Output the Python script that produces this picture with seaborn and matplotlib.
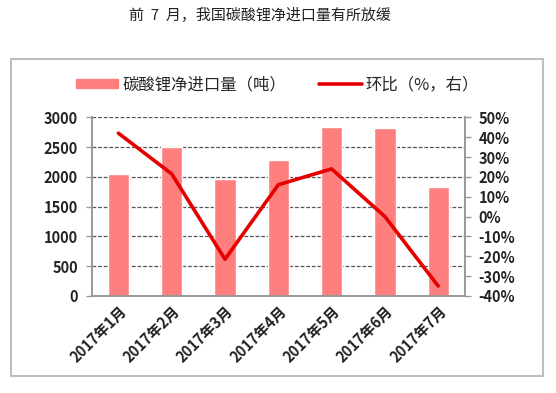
import matplotlib
matplotlib.use("Agg")
import matplotlib.pyplot as plt
import matplotlib.patches as mpatches
import matplotlib.ticker as mticker
from matplotlib.lines import Line2D
import pandas as pd
import seaborn as sns

# data
months = ["2017年1月", "2017年2月", "2017年3月", "2017年4月",
          "2017年5月", "2017年6月", "2017年7月"]
net_imports = [2050, 2500, 1960, 2275, 2835, 2825, 1835]    # 吨
mom_change = [42, 21.5, -21.5, 16, 24, 0, -35]              # %

title = "前  7  月，我国碳酸锂净进口量有所放缓"
bar_label = "碳酸锂净进口量（吨）"
line_label = "环比（%，右）"

bar_color = "#FF7F7F"
line_color = "#E60000"

df = pd.DataFrame({"month": months, "imports": net_imports, "mom": mom_change})

sns.set_style("white")
plt.rcParams["font.family"] = ["Noto Sans CJK SC", "DejaVu Sans"]

fig = plt.figure(figsize=(5.56, 3.93), dpi=100)
ax = fig.add_axes([0.165, 0.247, 0.671, 0.4545])

# bars on the left axis
sns.barplot(data=df, x="month", y="imports", color=bar_color, width=0.4,
            saturation=1, ax=ax, zorder=2)
ax.set_ylim(0, 3000)
ax.set_yticks(range(0, 3001, 500))
ax.set_xlim(-0.5, len(months) - 0.5)
ax.grid(axis="y", linestyle=(0, (3, 1.5)), color="#555555", linewidth=0.9, zorder=0)
ax.set_axisbelow(True)
ax.set_xlabel("")
ax.set_ylabel("")

# category boundary ticks on the x axis
ax.set_xticks([i for i in range(len(months))])
ax.set_xticklabels(months, rotation=45, ha="right", rotation_mode="anchor",
                   fontsize=10.5, fontweight="bold", color="#222222")
ax.tick_params(axis="x", length=0, pad=5)
ax.xaxis.set_minor_locator(mticker.FixedLocator([i + 0.5 for i in range(-1, len(months))]))
ax.tick_params(axis="x", which="minor", length=4, color="#999999", width=1)
ax.tick_params(axis="y", length=4, color="#999999", width=1, direction="out",
               labelsize=10.5, pad=6)
for lab in ax.get_yticklabels():
    lab.set_fontweight("bold")
    lab.set_color("#222222")

for side in ["left", "right", "bottom"]:
    ax.spines[side].set_visible(True)
    ax.spines[side].set_color("#999999")
    ax.spines[side].set_linewidth(1.2)
ax.spines["top"].set_visible(False)

# line on the right axis
ax2 = ax.twinx()
sns.lineplot(data=df, x="month", y="mom", sort=False, color=line_color,
             linewidth=2.6, ax=ax2, zorder=3)
ax2.set_ylim(-40, 50)
ax2.set_yticks(range(-40, 51, 10))
ax2.yaxis.set_major_formatter(mticker.FuncFormatter(lambda v, p: f"{int(v)}%"))
ax2.set_ylabel("")
ax2.tick_params(axis="y", length=4, color="#999999", width=1, direction="out",
                labelsize=10.5, pad=6)
for lab in ax2.get_yticklabels():
    lab.set_fontweight("bold")
    lab.set_color("#222222")
for side in ["left", "right", "bottom"]:
    ax2.spines[side].set_color("#999999")
    ax2.spines[side].set_linewidth(1.2)
ax2.spines["top"].set_visible(False)
ax2.set_xlim(-0.5, len(months) - 0.5)

# legend above the plot
handles = [mpatches.Patch(color=bar_color, label=bar_label),
           Line2D([0], [0], color=line_color, linewidth=2.6, label=line_label)]
fig.legend(handles=handles, loc="center", bbox_to_anchor=(0.499, 0.785), ncol=2,
           frameon=False, fontsize=11.8, handlelength=2.6, handleheight=0.45,
           columnspacing=2.0, handletextpad=0.25)

fig.text(0.468, 0.962, title, ha="center", va="center", fontsize=10.8, color="#222222")

# grey frame around the chart
fig.add_artist(mpatches.Rectangle((0.0198, 0.0433), 0.9568, 0.8074,
                                  transform=fig.transFigure, fill=False,
                                  edgecolor="#BFBFBF", linewidth=1.5))

fig.savefig("out.png", dpi=100)
